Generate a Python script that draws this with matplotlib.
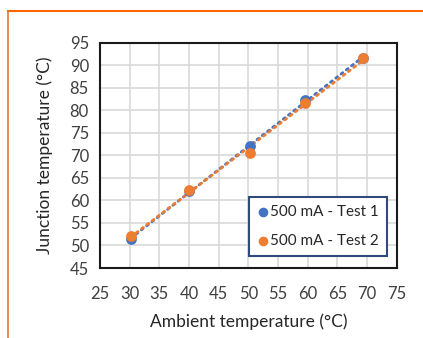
import numpy as np
import matplotlib
matplotlib.use('Agg')
import matplotlib.pyplot as plt
from matplotlib.lines import Line2D

plt.rcParams['font.family'] = ['Lato', 'DejaVu Sans']

# data
ambient = [30.2, 40.0, 50.3, 59.6, 69.3]
test1 = [51.4, 62.0, 72.2, 82.3, 91.6]
test2 = [52.2, 62.3, 70.5, 81.6, 91.6]
labels = ['500 mA - Test 1', '500 mA - Test 2']
colors = ['#4472C4', '#ED7D31']

fig = plt.figure(figsize=(4.23, 3.38), dpi=100)
ax = fig.add_axes([0.2364, 0.2071, 0.7014, 0.6657])

for y, c, lab in zip([test1, test2], colors, labels):
    ax.scatter(ambient, y, s=60, color=c, zorder=3, label=lab, linewidths=0)
    k, b = np.polyfit(ambient, y, 1)
    xs = np.array([min(ambient), max(ambient)])
    ax.plot(xs, k * xs + b, color=c, lw=2, linestyle=(0, (0.8, 1.6)),
            zorder=2, dash_capstyle='round')

ax.set_xlim(25, 75)
ax.set_ylim(45, 95)
ax.set_xticks(np.arange(25, 76, 5))
ax.set_yticks(np.arange(45, 96, 5))
ax.grid(True, color='#D9D9D9', lw=1.2)
ax.set_axisbelow(True)
ax.tick_params(length=0, labelsize=12, colors='#404040')
ax.tick_params(axis='x', pad=13)
ax.tick_params(axis='y', pad=8)
for s in ax.spines.values():
    s.set_linewidth(1.5)
    s.set_color('#1a1a1a')

ax.set_xlabel('Ambient temperature (°C)', fontsize=12.5, color='#262626', labelpad=8)
ax.set_ylabel('Junction temperature (°C)', fontsize=12.5, color='#262626', labelpad=12)

leg = ax.legend(loc='lower right', bbox_to_anchor=(0.967, 0.053), fontsize=11,
                frameon=True, fancybox=False, handletextpad=0.1,
                handlelength=0.7, borderpad=0.55, labelspacing=0.95,
                markerscale=0.9, labelcolor='#262626', borderaxespad=0)
leg.get_frame().set_edgecolor('#2F4B7C')
leg.get_frame().set_linewidth(1.5)
leg.get_frame().set_alpha(1)

# orange frame lines at top and left
fig.add_artist(Line2D([7.5 / 423, 1.0], [1 - 11 / 338, 1 - 11 / 338],
                      color='#FF6600', lw=1.5, transform=fig.transFigure))
fig.add_artist(Line2D([7.5 / 423, 7.5 / 423], [0, 1 - 11 / 338],
                      color='#E87530', lw=1.2, transform=fig.transFigure))

fig.savefig('out.png', dpi=100)
